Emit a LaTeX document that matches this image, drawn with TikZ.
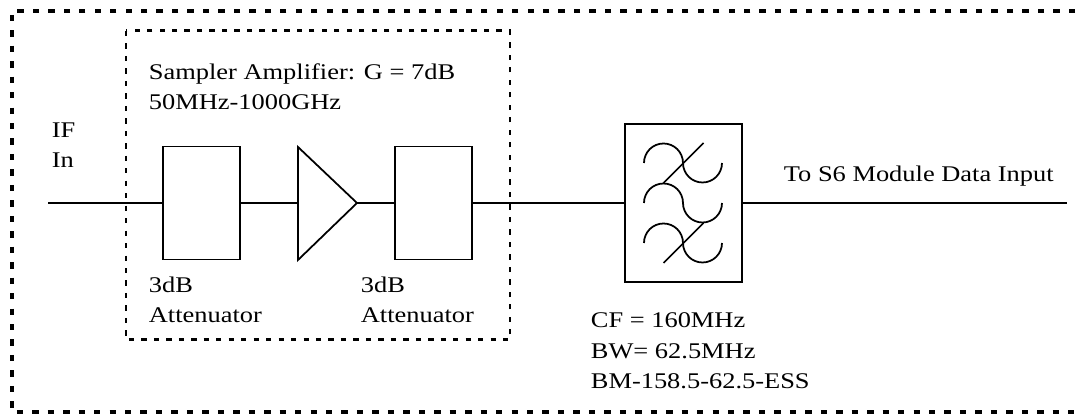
\documentclass[tikz,border=0pt]{standalone}
\usepackage{fontspec}
\setmainfont{Liberation Serif}[FakeStretch=1.18]
\usetikzlibrary{arrows}

\tikzset{
  attbox/.style={draw,line width=1pt,minimum width=1.54cm,minimum height=2.26cm,inner sep=0pt},
  filtbox/.style={draw,line width=1pt,minimum width=2.34cm,minimum height=3.16cm,inner sep=0pt},
  lbl/.style={anchor=base west,align=left,inner sep=0pt,font=\fontsize{12.75}{17.6}\selectfont},
  outerdash/.style={line width=2pt,dash pattern=on 3.6pt off 5.2pt},
  innerdash/.style={line width=1.7pt,dash pattern=on 3pt off 4.1pt}
}

\begin{document}
\begin{tikzpicture}[line join=miter,x=0.02cm,y=0.02cm,line width=1pt]
\useasboundingbox (0,0) rectangle (1080,415);
% enclosures
\draw [outerdash] (1075,404) -- (12,404) -- (12,3) -- (1075,3);
\draw [innerdash] (126,384) rectangle (510,75);
% blocks
\coordinate (in) at (48,212);
\node [attbox] (att1) at (201.5,212) {};
\coordinate (amp) at (298,212);
\coordinate (amptip) at (357,212);
\draw (298,268) -- (amptip) -- (298,155) -- cycle;
\node [attbox] (att2) at (433.5,212) {};
\node [filtbox] (filt) at (683.5,212) {};
\coordinate (out) at (1067,212);
% filter symbol
\begin{scope}[shift={(filt)}]
\foreach \yy in {-40,0,40}
  \draw (-39.5,\yy) arc (180:0:19.5) arc (180:360:19.5);
\foreach \yy in {-40,40}
  \draw (-20,\yy-20) -- (20,\yy+20);
\end{scope}
% signal path
\draw (in) -- (att1);
\draw (att1) -- (amp);
\draw (amptip) -- (att2);
\draw (att2) -- (filt);
\draw (filt) -- (out);
% labels (base = last line)
\node [lbl] (iflbl) at (51,247) {IF\\In};
\node [lbl] (amplbl) at (148,305) {Sampler Amplifier: G = 7dB\\50MHz-1000GHz};
\node [lbl] (att1lbl) at (148,92) {3dB\\Attenuator};
\node [lbl] (att2lbl) at (360,92) {3dB\\Attenuator};
\node [lbl] (outlbl) at (783,233) {To S6 Module Data Input};
\node [lbl] (filtlbl) at (590,26) {CF = 160MHz\\BW= 62.5MHz\\BM-158.5-62.5-ESS};
\end{tikzpicture}
\end{document}
